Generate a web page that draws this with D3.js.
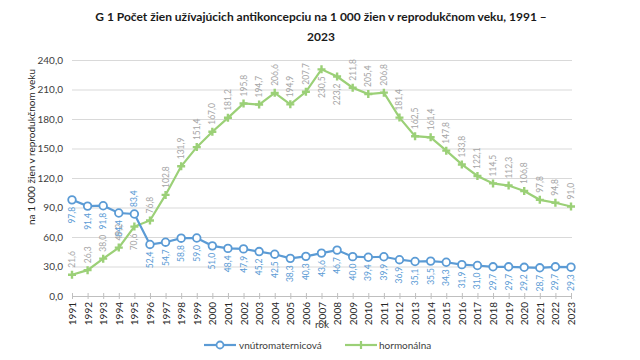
<!DOCTYPE html>
<html><head><meta charset="utf-8">
<script src="https://cdn.jsdelivr.net/npm/d3@7"></script>
<style>body{margin:0;background:#fff}svg{display:block}</style>
</head><body>
<svg id="c" width="640" height="360"></svg>
<script>
const years = d3.range(1991, 2024).map(String);
const iud = [97.8,91.4,91.8,84.4,83.4,52.4,54.7,58.8,59.0,51.0,48.4,47.9,45.2,42.5,38.3,40.3,43.6,46.7,40.0,39.4,39.9,36.9,35.1,35.5,34.3,31.9,31.0,29.7,29.7,29.2,28.7,29.7,29.3];
const hormonal = [21.6,26.3,38.0,49.2,70.6,76.8,102.8,131.9,151.4,167.0,181.2,195.8,194.7,206.6,194.9,207.7,230.5,223.2,211.8,205.4,206.8,181.4,162.5,161.4,147.8,133.8,122.1,114.5,112.3,106.8,97.8,94.8,91.0];
const yTicks = [0,30,60,90,120,150,180,210,240];
const seriesNames = ["vnútromaternicová","hormonálna"];
const titleLines = ["G 1 Počet žien užívajúcich antikoncepciu na 1 000 žien v reprodukčnom veku, 1991 –","2023"];
const iudAbove = ["1995"];
const hormBelow = ["1995","2007","2008"];

const blue = "#5b9bd5", green = "#9bd077";
const fmt = v => v.toFixed(1).replace(".", ",");
const svg = d3.select("#c");
const font = "Lato, 'Open Sans', sans-serif";

const x = d3.scalePoint().domain(years).range([72, 571]);
const y = d3.scaleLinear().domain([0, 240]).range([296, 60]);

// title
svg.append("g").selectAll("text").data(titleLines).join("text")
  .attr("x", 321).attr("y", (d,i) => 21 + i*20)
  .attr("text-anchor", "middle").attr("font-family", font)
  .attr("font-weight", 700).attr("font-size", 12).attr("fill", "#1a1a1a").text(d => d);

// gridlines + y axis
const ya = svg.append("g").attr("transform", "translate(72,0)")
  .call(d3.axisLeft(y).tickValues(yTicks).tickSize(-500).tickFormat(fmt));
ya.select(".domain").remove();
ya.selectAll(".tick line").attr("stroke", "#d9d9d9");
ya.selectAll(".tick text").attr("x", -9).attr("font-family", font).attr("font-size", 10).attr("fill", "#404040");
ya.selectAll(".tick").filter(d => d === 0).select("line").remove();

// x axis
const xa = svg.append("g").attr("transform", "translate(0,296)")
  .call(d3.axisBottom(x).tickSize(5).tickSizeOuter(0));
xa.select(".domain").attr("stroke", "#bfbfbf");
xa.selectAll(".tick line").attr("stroke", "#bfbfbf").attr("y1", -3).attr("y2", 3);
xa.selectAll(".tick text").attr("transform", "rotate(-90)").attr("text-anchor", "end")
  .attr("x", -6).attr("y", 0).attr("dy", "0.35em")
  .attr("font-family", font).attr("font-size", 10).attr("fill", "#262626");

// axis titles
svg.append("text").attr("x", 322).attr("y", 328).attr("text-anchor", "middle")
  .attr("font-family", font).attr("font-size", 10).attr("fill", "#404040").text("rok");
svg.append("text").attr("transform", "translate(35,147) rotate(-90)").attr("text-anchor", "middle")
  .attr("font-family", font).attr("font-size", 10).attr("fill", "#262626").text("na 1 000 žien v reprodukčnom veku");

const line = d3.line().x((d,i) => x(years[i])).y(d => y(d));

// hormonal series
svg.append("path").datum(hormonal).attr("d", line).attr("fill", "none").attr("stroke", green).attr("stroke-width", 2.2);
const plus = "M-4,0H4M0,-4V4";
svg.append("g").selectAll("path").data(hormonal).join("path")
  .attr("transform", (d,i) => `translate(${x(years[i])},${y(d)})`)
  .attr("d", plus).attr("stroke", green).attr("stroke-width", 2.4);

// iud series
svg.append("path").datum(iud).attr("d", line).attr("fill", "none").attr("stroke", blue).attr("stroke-width", 2.2);
svg.append("g").selectAll("circle").data(iud).join("circle")
  .attr("cx", (d,i) => x(years[i])).attr("cy", d => y(d)).attr("r", 3.8)
  .attr("fill", "#fff").attr("stroke", blue).attr("stroke-width", 1.8);

// data labels (rotated)
function labels(data, color, belowFn) {
  svg.append("g").selectAll("text").data(data).join("text")
    .attr("transform", (d,i) => {
      const below = belowFn(years[i]);
      const py = below ? y(d) + 7 : y(d) - 7;
      return `translate(${x(years[i]) + 3},${py}) rotate(-90)`;
    })
    .attr("text-anchor", (d,i) => belowFn(years[i]) ? "end" : "start")
    .attr("font-family", font).attr("font-size", 8.5).attr("fill", color)
    .text(d => fmt(d));
}
labels(iud, blue, yr => !iudAbove.includes(yr));
labels(hormonal, "#a6a6a6", yr => hormBelow.includes(yr));

// legend
const lg = svg.append("g").attr("font-family", font).attr("font-size", 10).attr("fill", "#404040");
lg.append("line").attr("x1", 204).attr("x2", 236).attr("y1", 345).attr("y2", 345).attr("stroke", blue).attr("stroke-width", 2.2);
lg.append("circle").attr("cx", 220).attr("cy", 345).attr("r", 3.5).attr("fill", "#fff").attr("stroke", blue).attr("stroke-width", 1.8);
lg.append("text").attr("x", 239).attr("y", 348.5).text(seriesNames[0]);
lg.append("line").attr("x1", 345).attr("x2", 377).attr("y1", 345).attr("y2", 345).attr("stroke", green).attr("stroke-width", 2.2);
lg.append("path").attr("transform", "translate(361,345)").attr("d", plus).attr("stroke", green).attr("stroke-width", 2.2);
lg.append("text").attr("x", 379).attr("y", 348.5).text(seriesNames[1]);
</script>
</body></html>
